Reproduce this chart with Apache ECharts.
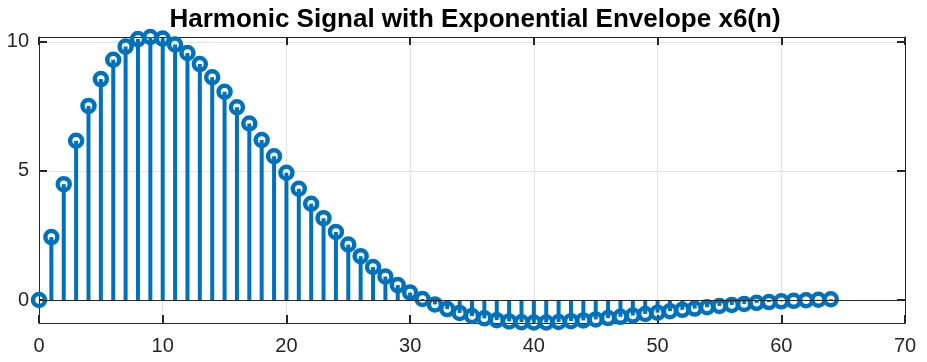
<!DOCTYPE html>
<html>
<head>
<meta charset="utf-8">
<script src="https://cdn.jsdelivr.net/npm/echarts@6/dist/echarts.min.js"></script>
<style>
  html, body { margin: 0; padding: 0; background: #fff; }
  #main { width: 927px; height: 362px; }
</style>
</head>
<body>
<div id="main"></div>
<script>
// x6(n), n = 0..64
var nValues = [];
for (var i = 0; i <= 64; i++) nValues.push(i);
var x6 = [
  0.00, 2.44, 4.49, 6.17, 7.52, 8.56, 9.31, 9.82, 10.11, 10.19,
  10.13, 9.90, 9.57, 9.14, 8.63, 8.07, 7.47, 6.84, 6.20, 5.57,
  4.93, 4.31, 3.73, 3.17, 2.64, 2.15, 1.70, 1.28, 0.91, 0.58,
  0.29, 0.04, -0.17, -0.35, -0.50, -0.62, -0.71, -0.78, -0.83, -0.86,
  -0.87, -0.87, -0.85, -0.82, -0.79, -0.75, -0.70, -0.65, -0.60, -0.54,
  -0.49, -0.43, -0.38, -0.33, -0.28, -0.23, -0.19, -0.15, -0.11, -0.08,
  -0.05, -0.03, -0.01, 0.01, 0.03
];
var yTicks = [0, 5, 10];

var axisColor = '#262626';
var blue = '#0072BD';

var points = nValues.map(function (n, k) { return [n, x6[k]]; });

var chart = echarts.init(document.getElementById('main'));
var option = {
    backgroundColor: '#fff',
    animation: false,
    title: {
        text: 'Harmonic Signal with Exponential Envelope x6(n)',
        left: 470,
        textAlign: 'center',
        top: 2,
        textStyle: {
            fontFamily: 'Liberation Sans',
            fontWeight: 'bold',
            fontSize: 26,
            color: '#000'
        }
    },
    grid: { left: 39, right: 22, top: 37, bottom: 39 },
    xAxis: [
        {
            type: 'value', min: 0, max: 70, interval: 10,
            axisLine: { show: true, onZero: false, lineStyle: { color: axisColor, width: 1 } },
            axisTick: { show: true, inside: true, length: 8, lineStyle: { color: axisColor, width: 2 } },
            axisLabel: { color: axisColor, fontSize: 20, fontFamily: 'Liberation Sans', margin: 13 },
            splitLine: { show: true, lineStyle: { color: '#e3e3e3', width: 1 } }
        },
        {
            type: 'value', min: 0, max: 70, interval: 10, position: 'top',
            axisLine: { show: true, onZero: false, lineStyle: { color: axisColor, width: 1 } },
            axisTick: { show: true, inside: true, length: 8, lineStyle: { color: axisColor, width: 2 } },
            axisLabel: { show: false },
            splitLine: { show: false }
        }
    ],
    yAxis: [
        {
            type: 'value', min: -0.89, max: 10.19,
            axisLine: { show: true, onZero: false, lineStyle: { color: axisColor, width: 1 } },
            axisTick: { show: true, inside: true, length: 8, customValues: yTicks, lineStyle: { color: axisColor, width: 2 } },
            axisLabel: { color: axisColor, fontSize: 20, fontFamily: 'Liberation Sans', margin: 10, customValues: yTicks },
            splitLine: { show: true, lineStyle: { color: '#e3e3e3', width: 1 } }
        },
        {
            type: 'value', min: -0.89, max: 10.19, position: 'right',
            axisLine: { show: true, onZero: false, lineStyle: { color: axisColor, width: 1 } },
            axisTick: { show: true, inside: true, length: 8, customValues: yTicks, lineStyle: { color: axisColor, width: 2 } },
            axisLabel: { show: false },
            splitLine: { show: false }
        }
    ],
    series: [
        {
            name: 'stem',
            type: 'bar',
            barWidth: 4,
            clip: false,
            itemStyle: { color: blue },
            data: points,
            markLine: {
                silent: true,
                symbol: 'none',
                label: { show: false },
                lineStyle: { color: axisColor, width: 1, type: 'solid' },
                data: [{ yAxis: 0 }]
            }
        },
        {
            name: 'x6',
            type: 'scatter',
            symbol: 'circle',
            symbolSize: 12,
            clip: false,
            itemStyle: { color: 'rgba(0,0,0,0)', borderColor: blue, borderWidth: 4.5, opacity: 1 },
            data: points
        }
    ]
};
chart.setOption(option);
</script>
</body>
</html>
